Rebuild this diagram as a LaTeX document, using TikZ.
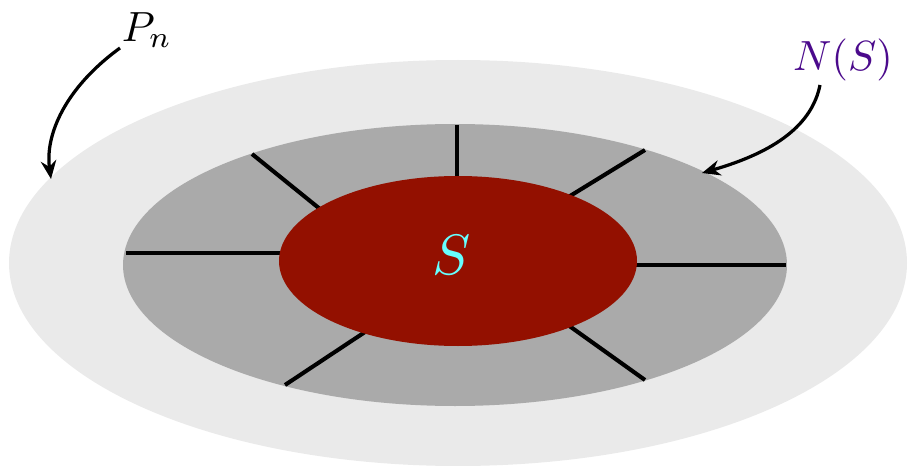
\documentclass[tikz,border=0pt]{standalone}
\usetikzlibrary{arrows.meta}
\definecolor{outergray}{HTML}{EAEAEA}
\definecolor{midgray}{HTML}{AAAAAA}
\definecolor{sred}{HTML}{931000}
\definecolor{scyan}{HTML}{66FFFF}
\definecolor{npurple}{HTML}{4B0A8C}
\begin{document}
\begin{tikzpicture}[x=0.025cm,y=-0.025cm,
  spoke/.style={line width=2.9pt,black},
  pointer/.style={line width=2.3pt,black,-{Stealth[length=13pt,width=11pt]}},
  lbl/.style={inner sep=0pt,scale=3.0}]
\useasboundingbox (0,0) rectangle (909,466);
\clip (0,0) rectangle (909,466);
\fill[outergray] (458,263) ellipse [x radius=449, y radius=203];
\fill[midgray] (455,265) ellipse [x radius=332, y radius=141];
% spokes
\draw[spoke] (457,125) -- (457,177);
\draw[spoke] (252,154) -- (320,209);
\draw[spoke] (645,150) -- (570,196);
\draw[spoke] (126,253) -- (282,253);
\draw[spoke] (634,265) -- (786,265);
\draw[spoke] (365,332) -- (285,385);
\draw[spoke] (568,325) -- (645,380);
\fill[sred] (458,261) ellipse [x radius=179, y radius=85];
\node[lbl,text=scyan,scale=1.35] (s) at (452,255) {$S$};
\node[lbl] (pn) at (147,30) {$P_n$};
\node[lbl,text=npurple] (ns) at (843,60) {$N(S)$};
\coordinate (pnend) at (51,179);
\coordinate (nsend) at (702,173);
\draw[pointer] (120,48) .. controls (65,88) and (45,135) .. (pnend);
\draw[pointer] (820,85) .. controls (812,125) and (775,152) .. (nsend);
\end{tikzpicture}
\end{document}
